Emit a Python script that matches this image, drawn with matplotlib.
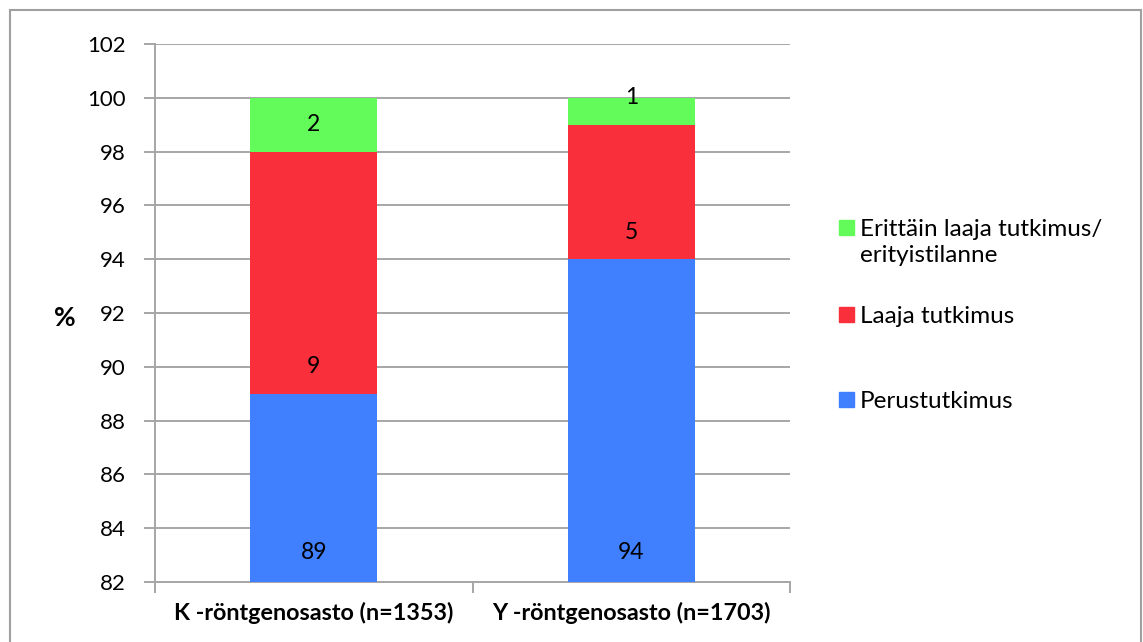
import matplotlib
matplotlib.use("Agg")
import matplotlib.pyplot as plt
from matplotlib.patches import Rectangle
import numpy as np

plt.rcParams['font.family'] = ['Lato', 'DejaVu Sans']

# Data
categories = ["K -röntgenosasto (n=1353)", "Y -röntgenosasto (n=1703)"]
series_names = ["Perustutkimus", "Laaja tutkimus", "Erittäin laaja tutkimus/\nerityistilanne"]
perustutkimus = [89, 94]
laaja = [9, 5]
erittain_laaja = [2, 1]
# vertical placement of the value labels inside each segment
label_pos_perus = [83.1, 83.1]
label_pos_laaja = [90.0, 95.0]
label_pos_erittain = [99.0, 100.0]

colors = ["#4080FF", "#F9303C", "#62FB5A"]
grid_col = "#A6A6A6"

fig = plt.figure(figsize=(11.43, 6.42), dpi=100)
ax = fig.add_axes([155/1143, 60/642, 635/1143, 538/642])

x = np.arange(len(categories))
w = 0.4
b1 = np.array(perustutkimus, dtype=float)
b2 = b1 + np.array(laaja)
ax.bar(x, perustutkimus, width=w, color=colors[0], zorder=3)
ax.bar(x, laaja, width=w, bottom=b1, color=colors[1], zorder=3)
ax.bar(x, erittain_laaja, width=w, bottom=b2, color=colors[2], zorder=3)

for vals, pos in [(perustutkimus, label_pos_perus), (laaja, label_pos_laaja),
                  (erittain_laaja, label_pos_erittain)]:
    for xi, v, p in zip(x, vals, pos):
        ax.text(xi, p, str(v), ha="center", va="center", fontsize=16.5,
                color="black", zorder=4)

ax.set_xlim(-0.5, 1.5)
ax.set_ylim(82, 102)
ax.set_yticks(np.arange(82, 103, 2))
ax.yaxis.grid(True, color=grid_col, linewidth=1.4, zorder=0)
ax.tick_params(axis="y", length=8, width=1.4, color=grid_col, pad=13,
               labelsize=16)

ax.set_xticks([-0.5, 0.5, 1.5])
ax.set_xticklabels([])
ax.set_xticks(x, minor=True)
ax.set_xticklabels(categories, minor=True, fontsize=16.8, fontweight="bold")
ax.tick_params(axis="x", which="major", length=8, width=1.4, color=grid_col,
               direction="out")
ax.tick_params(axis="x", which="minor", length=0, pad=14)

for s in ["top", "right"]:
    ax.spines[s].set_visible(False)
for s in ["left", "bottom"]:
    ax.spines[s].set_color(grid_col)
    ax.spines[s].set_linewidth(1.4)

# "%" axis label
fig.text(65/1143, 1 - 318/642, "%", fontsize=19, fontweight="bold",
         ha="center", va="center")

# Legend
legend_items = [(series_names[2], colors[2], 227),
                (series_names[1], colors[1], 314),
                (series_names[0], colors[0], 399)]
sq = 15
for label, col, yc in legend_items:
    fig.patches.append(Rectangle((839/1143, 1 - (yc + sq/2)/642), sq/1143, sq/642,
                                 transform=fig.transFigure, color=col,
                                 figure=fig))
    fig.text(860/1143, 1 - (yc - 8)/642, label, fontsize=17.5, ha="left",
             va="top", linespacing=1.3)

# Outer chart frame
fig.patches.append(Rectangle((10/1143, -0.05), 1131/1143, 1.05 - 10/642,
                             transform=fig.transFigure, fill=False,
                             edgecolor="#A0A0A0", linewidth=1.5, figure=fig))

fig.savefig("out.png", dpi=100)
